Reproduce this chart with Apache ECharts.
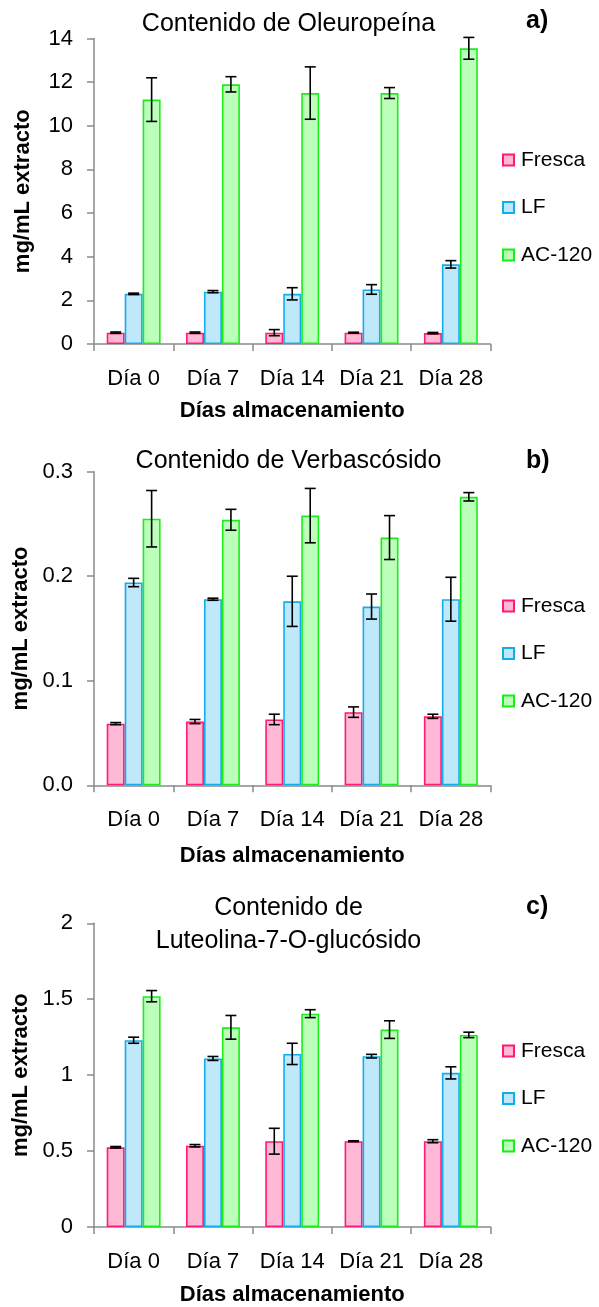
<!DOCTYPE html>
<html>
<head>
<meta charset="utf-8">
<script src="https://cdn.jsdelivr.net/npm/echarts@6/dist/echarts.min.js"></script>
<style>
  html, body { margin: 0; padding: 0; background: #fff; }
  #chart { width: 599px; height: 1307px; }
</style>
</head>
<body>
<div id="chart"></div>
<script>
// Storage days and sample groups
const categories = ['Día 0', 'Día 7', 'Día 14', 'Día 21', 'Día 28'];
const groupNames = ['Fresca', 'LF', 'AC-120'];

// a) Oleuropeína (mg/mL extracto), mean and standard deviation
const oleFresca = [0.52, 0.52, 0.52, 0.52, 0.50];
const oleFrescaErr = [0.03, 0.03, 0.14, 0.02, 0.03];
const oleLF = [2.30, 2.40, 2.30, 2.50, 3.65];
const oleLFErr = [0.03, 0.05, 0.28, 0.22, 0.17];
const oleAC = [11.2, 11.9, 11.5, 11.5, 13.55];
const oleACErr = [1.0, 0.35, 1.2, 0.25, 0.5];

// b) Verbascósido
const verFresca = [0.059, 0.061, 0.063, 0.070, 0.066];
const verFrescaErr = [0.001, 0.002, 0.005, 0.005, 0.002];
const verLF = [0.194, 0.178, 0.176, 0.171, 0.178];
const verLFErr = [0.004, 0.001, 0.024, 0.012, 0.021];
const verAC = [0.255, 0.254, 0.258, 0.237, 0.276];
const verACErr = [0.027, 0.010, 0.026, 0.021, 0.004];

// c) Luteolina-7-O-glucósido
const lutFresca = [0.525, 0.535, 0.565, 0.565, 0.565];
const lutFrescaErr = [0.005, 0.008, 0.085, 0.003, 0.010];
const lutLF = [1.230, 1.110, 1.140, 1.125, 1.015];
const lutLFErr = [0.020, 0.013, 0.070, 0.012, 0.040];
const lutAC = [1.520, 1.315, 1.405, 1.300, 1.265];
const lutACErr = [0.037, 0.078, 0.026, 0.058, 0.018];

// y-axis ranges
const oleAxis = { min: 0, max: 14, interval: 2 };
const verAxis = { min: 0, max: 0.3, interval: 0.1 };
const lutAxis = { min: 0, max: 2, interval: 0.5 };

const FONT = "'Liberation Sans', Arial, sans-serif";
const FILL = ['#ffb9d6', '#bfe8fa', '#bbffbb'];
const EDGE = ['#ff1a75', '#14adec', '#1aee1a'];
const AXIS = '#8a8a8a';
const GAP = 0.32;

const panels = [
  {
    title: 'Contenido de Oleuropeína', tag: 'a)', axis: oleAxis, decimals: null,
    values: [oleFresca, oleLF, oleAC], errors: [oleFrescaErr, oleLFErr, oleACErr],
    gridTop: 38.5, gridHeight: 305.5, titleTop: 8, tagTop: 9, legendTop: 149, xNameGap: 56
  },
  {
    title: 'Contenido de Verbascósido', tag: 'b)', axis: verAxis, decimals: 1,
    values: [verFresca, verLF, verAC], errors: [verFrescaErr, verLFErr, verACErr],
    gridTop: 471.7, gridHeight: 313.6, titleTop: 445, tagTop: 449, legendTop: 595, xNameGap: 60
  },
  {
    title: 'Contenido de\nLuteolina-7-O-glucósido', tag: 'c)', axis: lutAxis, decimals: null,
    values: [lutFresca, lutLF, lutAC], errors: [lutFrescaErr, lutLFErr, lutACErr],
    gridTop: 923.3, gridHeight: 306, titleTop: 892, tagTop: 895, legendTop: 1040, xNameGap: 57
  }
];

const grids = [], xAxes = [], yAxes = [], titles = [], legends = [], series = [];

// Error bars: a vertical whisker with caps, centred on each bar of a group
function errorSeries(p, s, vals, errs) {
  return {
    type: 'custom',
    xAxisIndex: p, yAxisIndex: p,
    z: 10, silent: true,
    data: vals.map((v, i) => [i, v, errs[i]]),
    encode: { x: 0, y: 1 },
    renderItem(params, api) {
      const i = api.value(0), v = api.value(1), e = api.value(2);
      const band = api.size([1, 0])[0];
      const barW = band * (1 - GAP) / 3;
      const cx = api.coord([i, v])[0] + (s - 1) * barW;
      const yTop = api.coord([i, v + e])[1];
      const yBot = api.coord([i, v - e])[1];
      const h = 5.5;
      const st = { stroke: '#000', lineWidth: 1.6 };
      return {
        type: 'group',
        children: [
          { type: 'line', shape: { x1: cx, y1: yTop, x2: cx, y2: yBot }, style: st },
          { type: 'line', shape: { x1: cx - h, y1: yTop, x2: cx + h, y2: yTop }, style: st },
          { type: 'line', shape: { x1: cx - h, y1: yBot, x2: cx + h, y2: yBot }, style: st }
        ]
      };
    }
  };
}

panels.forEach((pn, p) => {
  grids.push({ left: 94, width: 396.5, top: pn.gridTop, height: pn.gridHeight });
  xAxes.push({
    type: 'category', gridIndex: p, data: categories,
    name: 'Días almacenamiento', nameLocation: 'middle', nameGap: pn.xNameGap,
    nameTextStyle: { fontFamily: FONT, fontSize: 22, fontWeight: 'bold', color: '#000' },
    axisLine: { lineStyle: { color: AXIS, width: 1.5 } },
    axisTick: { show: true, length: 7, lineStyle: { color: AXIS, width: 1.5 } },
    axisLabel: { fontFamily: FONT, fontSize: 22, color: '#000', margin: 24, interval: 0 },
    splitLine: { show: false }
  });
  yAxes.push({
    type: 'value', gridIndex: p,
    min: pn.axis.min, max: pn.axis.max, interval: pn.axis.interval,
    name: 'mg/mL extracto', nameLocation: 'middle', nameGap: 60,
    nameTextStyle: { fontFamily: FONT, fontSize: 22, fontWeight: 'bold', color: '#000' },
    axisLine: { show: true, lineStyle: { color: AXIS, width: 1.5 } },
    axisTick: { show: true, length: 7, lineStyle: { color: AXIS, width: 1.5 } },
    axisLabel: {
      fontFamily: FONT, fontSize: 22, color: '#000', margin: 21,
      formatter: pn.decimals == null ? (v => String(+v.toFixed(2))) : (v => v.toFixed(pn.decimals))
    },
    splitLine: { show: false }
  });
  titles.push({
    text: pn.title, left: 288.5, top: pn.titleTop, textAlign: 'center', padding: 0,
    textStyle: { fontFamily: FONT, fontSize: 25, fontWeight: 'normal', color: '#000', lineHeight: 33 }
  });
  titles.push({
    text: pn.tag, left: 526, top: pn.tagTop, padding: 0,
    textStyle: { fontFamily: FONT, fontSize: 25, fontWeight: 'bold', color: '#000' }
  });
  legends.push({
    data: groupNames, orient: 'vertical', left: 502, top: pn.legendTop, padding: 0,
    icon: 'rect', itemWidth: 11, itemHeight: 11, itemGap: 25.5,
    selectedMode: false,
    textStyle: { fontFamily: FONT, fontSize: 21, color: '#000', lineHeight: 22, padding: [0, 0, 0, 2] }
  });
  groupNames.forEach((name, s) => {
    series.push({
      type: 'bar', name, xAxisIndex: p, yAxisIndex: p,
      data: pn.values[s],
      barGap: '0%', barCategoryGap: (GAP * 100) + '%',
      itemStyle: { color: FILL[s], borderColor: EDGE[s], borderWidth: 1.6 },
      emphasis: { disabled: true },
      animation: false
    });
  });
  groupNames.forEach((name, s) => {
    series.push(errorSeries(p, s, pn.values[s], pn.errors[s]));
  });
});

const chart = echarts.init(document.getElementById('chart'), null, { renderer: 'canvas' });
chart.setOption({
  animation: false,
  backgroundColor: '#ffffff',
  title: titles,
  legend: legends,
  grid: grids,
  xAxis: xAxes,
  yAxis: yAxes,
  series
});
</script>
</body>
</html>
